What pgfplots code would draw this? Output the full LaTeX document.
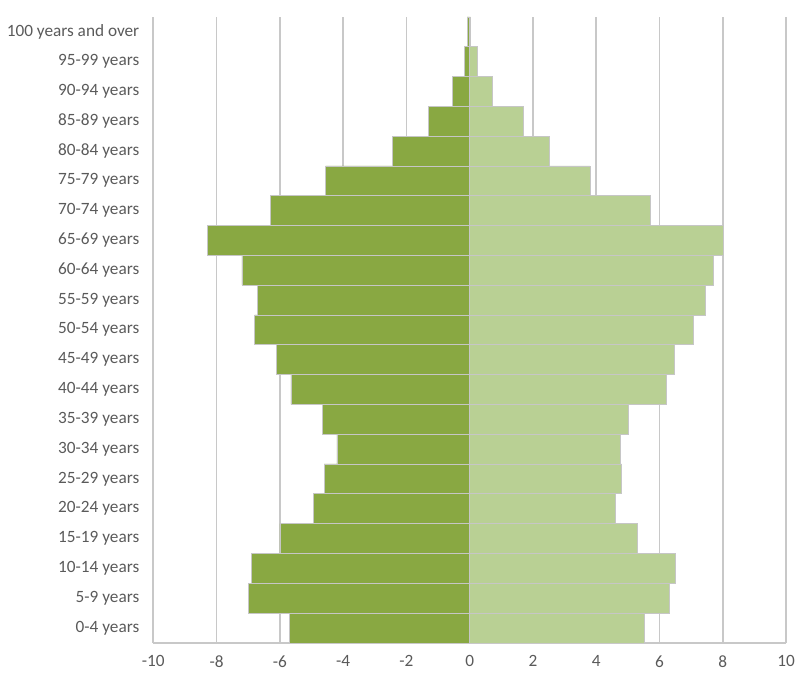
\documentclass[border=0pt]{standalone}
\usepackage{pgfplots}
\pgfplotsset{compat=1.18}
\usepackage{fontspec}
\setmainfont{Carlito}
\definecolor{darkg}{RGB}{137,168,66}
\definecolor{lightg}{RGB}{185,208,148}
\definecolor{gridg}{RGB}{200,200,200}
\definecolor{labg}{RGB}{90,90,90}
\begin{document}
\begin{tikzpicture}
\begin{axis}[
  name=ax,
  scale only axis,
  width=640bp, height=633bp,
  xmin=-10, xmax=10, ymin=-0.5, ymax=20.5,
  xbar, bar width=1, bar shift=0pt,
  xtick={-10,-8,-6,-4,-2,0,2,4,6,8,10},
  xticklabels={-10,-8,-6,-4,-2,0,2,4,6,8,10},
  ytick={0,...,20},
  yticklabels={0-4 years,5-9 years,10-14 years\hspace{3bp},15-19 years\hspace{3bp},20-24 years,25-29 years,30-34 years,35-39 years,40-44 years,45-49 years,50-54 years,55-59 years,60-64 years,65-69 years,70-74 years,75-79 years,80-84 years,85-89 years,90-94 years,95-99 years,100 years and over},
  major tick length=0pt,
  xmajorgrids,
  major grid style={gridg, line width=1.6bp},
  axis lines*=left,
  axis line style={gridg, line width=1.6bp},
  ticklabel style={font=\fontsize{17.5}{19}\selectfont, text=labg},
  yticklabel style={anchor=east, inner sep=0pt, xshift=-14bp},
  xticklabel style={anchor=north, inner sep=0pt, yshift=-13bp},
]
\addplot[fill=darkg, draw=gray!45, line width=0.5bp] coordinates {
(-5.7,0) (-7.0,1) (-6.9,2) (-6.0,3) (-4.95,4) (-4.6,5) (-4.2,6) (-4.65,7)
(-5.65,8) (-6.1,9) (-6.8,10) (-6.7,11) (-7.2,12) (-8.3,13) (-6.3,14)
(-4.55,15) (-2.45,16) (-1.3,17) (-0.55,18) (-0.18,19) (-0.08,20)};
\addplot[fill=lightg, draw=gray!45, line width=0.5bp] coordinates {
(5.5,0) (6.3,1) (6.5,2) (5.3,3) (4.6,4) (4.8,5) (4.75,6) (5.0,7)
(6.2,8) (6.45,9) (7.05,10) (7.45,11) (7.7,12) (8.0,13) (5.7,14)
(3.8,15) (2.5,16) (1.7,17) (0.7,18) (0.25,19) (0.03,20)};
\end{axis}
\pgfresetboundingbox
\path ([shift={(-155bp,-30bp)}]ax.south west) rectangle ([shift={(13bp,17bp)}]ax.north east);
\end{tikzpicture}
\end{document}
